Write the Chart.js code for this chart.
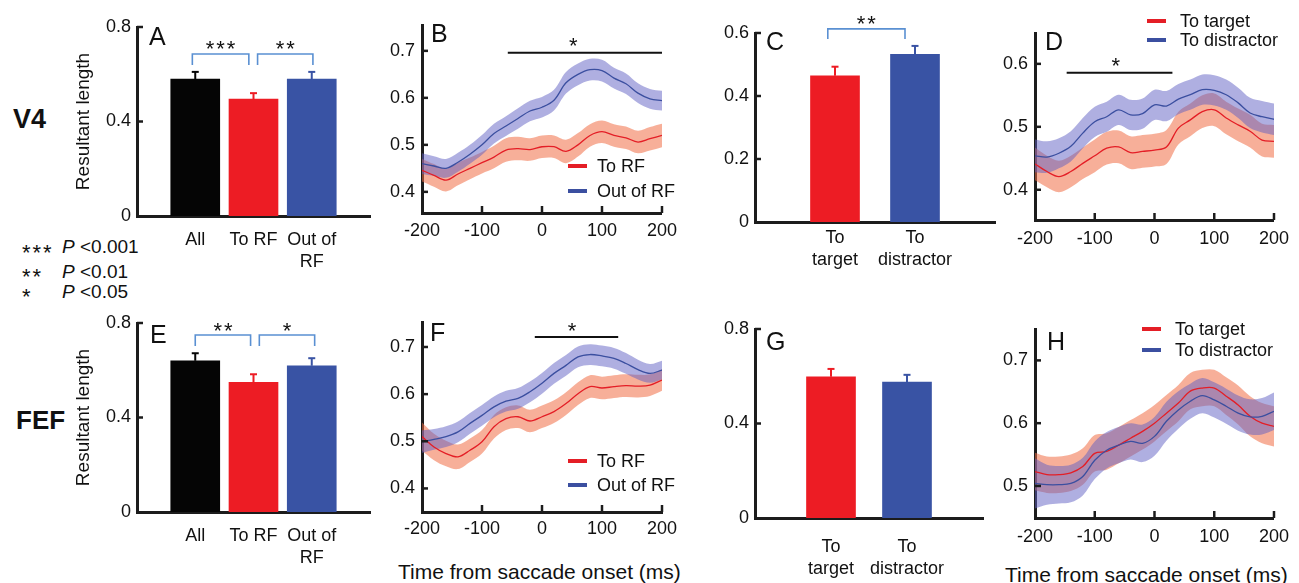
<!DOCTYPE html>
<html>
<head>
<meta charset="utf-8">
<script src="https://cdn.jsdelivr.net/npm/chart.js@4.4.0/dist/chart.umd.min.js"></script>
<style>
  body { margin: 0; background: #fff; width: 1299px; height: 583px; position: relative; overflow: hidden;
         font-family: "Liberation Sans", Arial, sans-serif; color: #111; }
  canvas { position: absolute; }
  .t { position: absolute; white-space: nowrap; }
</style>
</head>
<body>
<div class="t" style="left:13px;top:106px;font:bold 27px/27px 'Liberation Sans',Arial;">V4</div>
<div class="t" style="left:16px;top:407px;font:bold 26px/26px 'Liberation Sans',Arial;">FEF</div>
<div class="t" style="left:22px;top:242px;font:22px/22px 'Liberation Sans',Arial;letter-spacing:2px;">***</div>
<div class="t" style="left:22px;top:266px;font:22px/22px 'Liberation Sans',Arial;letter-spacing:2px;">**</div>
<div class="t" style="left:22px;top:286px;font:22px/22px 'Liberation Sans',Arial;">*</div>
<div class="t" style="left:62px;top:237px;font:19px/19px 'Liberation Sans',Arial;"><i>P</i> &lt;0.001</div>
<div class="t" style="left:62px;top:262px;font:19px/19px 'Liberation Sans',Arial;"><i>P</i> &lt;0.01</div>
<div class="t" style="left:62px;top:282px;font:19px/19px 'Liberation Sans',Arial;"><i>P</i> &lt;0.05</div>
<div class="t" style="left:398px;top:561px;font:21px/21px 'Liberation Sans',Arial;">Time from saccade onset (ms)</div>
<div class="t" style="left:1005px;top:564px;font:21px/21px 'Liberation Sans',Arial;">Time from saccade onset (ms)</div>
<script>
// ---- data ----
const timeMs = [-200, -180, -160, -140, -120, -100, -80, -60, -40, -20, 0, 20, 40, 60, 80, 100, 120, 140, 160, 180, 200];
const timeTicks = [-200, -100, 0, 100, 200];

const rfCats = ['All', 'To RF', ['Out of', 'RF']];
const tdCats = [['To', 'target'], ['To', 'distractor']];

// bar panels (resultant length, mean and sem)
const v4RfMean = [0.580, 0.495, 0.580];
const v4RfSem = [0.030, 0.025, 0.030];
const v4TdMean = [0.464, 0.532];
const v4TdSem = [0.029, 0.027];
const fefRfMean = [0.640, 0.549, 0.619];
const fefRfSem = [0.032, 0.034, 0.032];
const fefTdMean = [0.598, 0.575];
const fefTdSem = [0.033, 0.031];

// B: V4, to RF / out of RF
const bOutRF = [0.460, 0.455, 0.450, 0.463, 0.480, 0.500, 0.524, 0.540, 0.556, 0.572, 0.580, 0.595, 0.632, 0.650, 0.660, 0.658, 0.642, 0.630, 0.610, 0.598, 0.594];
const bOutRFSem = [0.022, 0.021, 0.020, 0.020, 0.020, 0.021, 0.021, 0.021, 0.022, 0.022, 0.022, 0.022, 0.023, 0.023, 0.023, 0.023, 0.022, 0.022, 0.021, 0.021, 0.021];
const bToRF = [0.446, 0.435, 0.425, 0.438, 0.450, 0.462, 0.474, 0.489, 0.492, 0.490, 0.496, 0.496, 0.486, 0.500, 0.520, 0.528, 0.520, 0.515, 0.506, 0.513, 0.520];
const bToRFSem = [0.024, 0.024, 0.024, 0.024, 0.023, 0.023, 0.024, 0.025, 0.025, 0.024, 0.024, 0.024, 0.025, 0.025, 0.024, 0.024, 0.024, 0.024, 0.024, 0.025, 0.025];

// D: V4, to target / to distractor
const dDistr = [0.454, 0.452, 0.458, 0.469, 0.490, 0.508, 0.516, 0.527, 0.519, 0.521, 0.535, 0.533, 0.544, 0.551, 0.559, 0.558, 0.551, 0.538, 0.522, 0.516, 0.512];
const dDistrSem = [0.026, 0.025, 0.024, 0.024, 0.024, 0.024, 0.024, 0.024, 0.024, 0.024, 0.024, 0.024, 0.024, 0.024, 0.024, 0.024, 0.024, 0.024, 0.024, 0.025, 0.025];
const dTarget = [0.441, 0.429, 0.421, 0.429, 0.442, 0.454, 0.466, 0.468, 0.459, 0.461, 0.463, 0.468, 0.498, 0.511, 0.524, 0.527, 0.514, 0.503, 0.493, 0.479, 0.477];
const dTargetSem = [0.026, 0.025, 0.025, 0.025, 0.025, 0.026, 0.026, 0.026, 0.026, 0.026, 0.026, 0.027, 0.026, 0.026, 0.026, 0.026, 0.026, 0.026, 0.026, 0.026, 0.026];

// F: FEF, to RF / out of RF
const fOutRF = [0.499, 0.504, 0.510, 0.520, 0.538, 0.555, 0.573, 0.585, 0.591, 0.605, 0.623, 0.644, 0.661, 0.679, 0.684, 0.681, 0.676, 0.665, 0.652, 0.644, 0.651];
const fOutRFSem = [0.024, 0.022, 0.022, 0.022, 0.022, 0.022, 0.022, 0.022, 0.022, 0.022, 0.022, 0.022, 0.022, 0.022, 0.022, 0.022, 0.022, 0.022, 0.021, 0.020, 0.020];
const fToRF = [0.510, 0.488, 0.474, 0.467, 0.481, 0.499, 0.531, 0.548, 0.552, 0.543, 0.552, 0.563, 0.580, 0.601, 0.616, 0.613, 0.616, 0.618, 0.617, 0.619, 0.630];
const fToRFSem = [0.030, 0.028, 0.027, 0.026, 0.025, 0.025, 0.025, 0.024, 0.024, 0.024, 0.024, 0.024, 0.024, 0.024, 0.024, 0.024, 0.024, 0.024, 0.024, 0.023, 0.023];

// H: FEF, to target / to distractor
const hDistr = [0.504, 0.502, 0.502, 0.504, 0.515, 0.541, 0.557, 0.565, 0.571, 0.568, 0.579, 0.603, 0.621, 0.635, 0.644, 0.637, 0.627, 0.616, 0.610, 0.611, 0.619];
const hDistrSem = [0.040, 0.032, 0.030, 0.030, 0.030, 0.030, 0.029, 0.029, 0.029, 0.030, 0.031, 0.031, 0.030, 0.028, 0.028, 0.028, 0.028, 0.028, 0.028, 0.029, 0.030];
const hTarget = [0.523, 0.518, 0.518, 0.521, 0.531, 0.552, 0.555, 0.565, 0.576, 0.587, 0.600, 0.616, 0.632, 0.651, 0.656, 0.656, 0.643, 0.629, 0.611, 0.600, 0.595];
const hTargetSem = [0.030, 0.029, 0.029, 0.029, 0.029, 0.029, 0.029, 0.029, 0.029, 0.029, 0.029, 0.029, 0.029, 0.029, 0.029, 0.029, 0.030, 0.031, 0.032, 0.032, 0.032];

const ticksA = [0, 0.4, 0.8];
const ticksC = [0, 0.2, 0.4, 0.6];
const ticksG = [0, 0.4, 0.8];
const ticksB = [0.4, 0.5, 0.6, 0.7];
const ticksD = [0.4, 0.5, 0.6];
const ticksF = [0.4, 0.5, 0.6, 0.7];
const ticksH = [0.5, 0.6, 0.7];

// ---- style ----
const FONT = '"Liberation Sans", Arial, sans-serif';
const INK = '#111';
const AXIS = '#1c1c1c';
const RED = '#E41E26', BLUE = '#3B4FA0', BLACK = '#050505';
const BAR_RED = '#ED1C24', BAR_BLUE = '#3953A4';
const RED_BAND = 'rgba(240,110,70,0.55)', BLUE_BAND = 'rgba(95,95,195,0.5)';
const BRACKET = '#5A90D2';

Chart.defaults.font.family = FONT;
Chart.defaults.font.size = 18;
Chart.defaults.color = INK;
Chart.defaults.animation = false;
Chart.defaults.events = [];
Chart.defaults.plugins.legend.display = false;
Chart.defaults.plugins.tooltip.enabled = false;

function stars(ctx, n, cx, cy) {
  ctx.font = '22px ' + FONT;
  ctx.textAlign = 'center';
  ctx.textBaseline = 'alphabetic';
  const pitch = 10.5;
  for (let i = 0; i < n; i++) ctx.fillText('*', cx + (i - (n - 1) / 2) * pitch, cy + 12.5);
}

function seg(ctx, x1, y1, x2, y2) {
  ctx.beginPath(); ctx.moveTo(x1, y1); ctx.lineTo(x2, y2); ctx.stroke();
}

const panelDecor = {
  id: 'panelDecor',
  afterDraw(chart, args, o) {
    const { ctx, chartArea: ca } = chart;
    const x = chart.scales.x, y = chart.scales.y;
    ctx.save();
    ctx.strokeStyle = AXIS; ctx.lineWidth = 2.5; ctx.lineCap = 'butt';
    // inward ticks
    y.ticks.forEach(t => {
      if (t.value <= y.min) return;
      const py = y.getPixelForValue(t.value);
      seg(ctx, ca.left, py, ca.left + 6, py);
    });
    if (o.xTicks) x.ticks.forEach(t => {
      if (t.value <= x.min) return;
      const px = x.getPixelForValue(t.value);
      seg(ctx, px, ca.bottom, px, ca.bottom - 7);
    });
    // panel letter
    ctx.fillStyle = INK;
    ctx.font = '25px ' + FONT;
    ctx.textAlign = 'left'; ctx.textBaseline = 'middle';
    ctx.fillText(o.letter, ca.left + o.letterAt[0], ca.top + o.letterAt[1]);

    // error bars
    if (o.sem) {
      const meta = chart.getDatasetMeta(0);
      const ds = chart.data.datasets[0];
      meta.data.forEach((bar, i) => {
        const v = ds.data[i];
        if (v == null) return;
        const top = y.getPixelForValue(v + o.sem[i]);
        ctx.strokeStyle = ds.backgroundColor[i];
        ctx.lineWidth = 2;
        seg(ctx, bar.x, bar.y, bar.x, top);
        seg(ctx, bar.x - 3.5, top, bar.x + 3.5, top);
      });
    }
    // significance brackets
    (o.brackets || []).forEach(b => {
      const x1 = x.getPixelForValue(b.from), x2 = x.getPixelForValue(b.to);
      const yt = y.getPixelForValue(b.top), yb = y.getPixelForValue(b.top - b.drop);
      ctx.strokeStyle = BRACKET; ctx.lineWidth = 1.6;
      ctx.beginPath(); ctx.moveTo(x1, yb); ctx.lineTo(x1, yt); ctx.lineTo(x2, yt); ctx.lineTo(x2, yb); ctx.stroke();
      ctx.fillStyle = INK;
      stars(ctx, b.stars, (x1 + x2) / 2, yt - 10);
    });
    // significance line
    if (o.sig) {
      const x1 = x.getPixelForValue(o.sig.from), x2 = x.getPixelForValue(o.sig.to);
      const py = y.getPixelForValue(o.sig.at);
      ctx.strokeStyle = INK; ctx.lineWidth = 2;
      seg(ctx, x1, py, x2, py);
      ctx.fillStyle = INK;
      stars(ctx, 1, x.getPixelForValue(o.sig.star), py - 12);
    }
    // legend
    if (o.legend) {
      const L = o.legend;
      L.items.forEach((it, i) => {
        const py = ca.top + L.dy + i * L.gap;
        ctx.strokeStyle = it.color; ctx.lineWidth = 4;
        seg(ctx, ca.left + L.dx, py, ca.left + L.dx + 19, py);
        ctx.fillStyle = INK;
        ctx.font = '18px ' + FONT;
        ctx.textAlign = 'left'; ctx.textBaseline = 'middle';
        ctx.fillText(it.label, ca.left + L.dx + L.textDx, py + 1);
      });
    }
    ctx.restore();
  }
};

function makeCanvas(box, pad) {
  const c = document.createElement('canvas');
  const w = box.r - box.l + pad.l + pad.r, h = box.b - box.t + pad.t + pad.b;
  c.width = w; c.height = h;
  c.style.left = (box.l - pad.l) + 'px';
  c.style.top = (box.t - pad.t) + 'px';
  c.style.width = w + 'px'; c.style.height = h + 'px';
  document.body.appendChild(c);
  return c;
}

function fixedTicks(list) {
  return s => { s.ticks = list.map(v => ({ value: v })); };
}

function barPanel(p) {
  const c = makeCanvas(p.box, p.pad);
  const labels = [''].concat(p.cats, ['']);
  const data = [null].concat(p.mean, [null]);
  const sem = [null].concat(p.sem, [null]);
  const colors = [null].concat(p.colors, [null]);
  new Chart(c, {
    type: 'bar',
    data: { labels: labels, datasets: [{ data: data, backgroundColor: colors, barThickness: 49, borderWidth: 0 }] },
    options: {
      responsive: false,
      layout: { padding: { top: p.pad.t, right: p.pad.r, left: 0, bottom: 0 } },
      scales: {
        x: {
          type: 'category', offset: false,
          grid: { display: false, drawTicks: false, offset: false },
          border: { color: AXIS, width: 3 },
          ticks: { padding: p.labelPad, maxRotation: 0, autoSkip: false, font: { size: 18, lineHeight: 1.22 } },
          afterFit: s => { s.height = p.pad.b; }
        },
        y: {
          min: 0, max: p.max,
          afterBuildTicks: fixedTicks(p.ticks),
          grid: { display: false, drawTicks: false },
          border: { color: AXIS, width: 3 },
          ticks: { padding: 6, callback: v => v === 0 ? '0' : v.toFixed(1) },
          title: { display: !!p.yTitle, text: p.yTitle, font: { size: 19 }, padding: 4 },
          afterFit: s => { s.width = p.pad.l; }
        }
      },
      plugins: { panelDecor: { letter: p.letter, letterAt: p.letterAt, sem: sem, brackets: p.brackets } }
    },
    plugins: [panelDecor]
  });
}

function band(mean, sem, lineColor, bandColor) {
  return [
    { data: timeMs.map((t, i) => ({ x: t, y: mean[i] + sem[i] })), borderWidth: 0, pointRadius: 0, fill: '+1', backgroundColor: bandColor, tension: 0.35 },
    { data: timeMs.map((t, i) => ({ x: t, y: mean[i] - sem[i] })), borderWidth: 0, pointRadius: 0, fill: false, tension: 0.35 },
    { data: timeMs.map((t, i) => ({ x: t, y: mean[i] })), borderColor: lineColor, borderWidth: 1.3, pointRadius: 0, fill: false, tension: 0.35 }
  ];
}

function linePanel(p) {
  const c = makeCanvas(p.box, p.pad);
  new Chart(c, {
    type: 'line',
    data: { datasets: p.series },
    options: {
      responsive: false,
      layout: { padding: { top: p.pad.t, right: p.pad.r, left: 0, bottom: 0 } },
      scales: {
        x: {
          type: 'linear', min: -200, max: 200,
          afterBuildTicks: fixedTicks(timeTicks),
          grid: { display: false, drawTicks: false },
          border: { color: AXIS, width: 3 },
          ticks: { padding: p.labelPad, maxRotation: 0, autoSkip: false, callback: v => String(v) },
          afterFit: s => { s.height = p.pad.b; }
        },
        y: {
          min: p.min, max: p.max,
          afterBuildTicks: fixedTicks(p.ticks),
          grid: { display: false, drawTicks: false },
          border: { color: AXIS, width: 3 },
          ticks: { padding: 7, callback: v => v.toFixed(1) },
          afterFit: s => { s.width = p.pad.l; }
        }
      },
      plugins: {
        filler: { drawTime: 'beforeDatasetsDraw' },
        panelDecor: { letter: p.letter, letterAt: p.letterAt, xTicks: true, sig: p.sig, legend: p.legend }
      }
    },
    plugins: [panelDecor]
  });
}

const rfLegend = [{ label: 'To RF', color: RED }, { label: 'Out of RF', color: BLUE }];
const tdLegend = [{ label: 'To target', color: RED }, { label: 'To distractor', color: BLUE }];

// ---- A ----
barPanel({
  box: { l: 137, t: 27, r: 377, b: 216 }, pad: { l: 69, t: 27, r: 6, b: 65 },
  cats: rfCats, mean: v4RfMean, sem: v4RfSem, colors: [BLACK, BAR_RED, BAR_BLUE],
  max: 0.8, ticks: ticksA, labelPad: 13, yTitle: 'Resultant length',
  letter: 'A', letterAt: [12, 11],
  brackets: [
    { from: 0.95, to: 1.92, top: 0.686, drop: 0.047, stars: 3 },
    { from: 2.07, to: 3.02, top: 0.686, drop: 0.047, stars: 2 }
  ]
});

// ---- B ----
linePanel({
  box: { l: 422, t: 25, r: 662, b: 213 }, pad: { l: 60, t: 25, r: 22, b: 35 },
  min: 0.355, max: 0.755, ticks: ticksB, labelPad: 7,
  series: band(bOutRF, bOutRFSem, BLUE, BLUE_BAND).concat(band(bToRF, bToRFSem, RED, RED_BAND)),
  letter: 'B', letterAt: [9, 10],
  sig: { from: -57, to: 200, at: 0.696, star: 52 },
  legend: { items: rfLegend, dx: 146, dy: 141, gap: 25, textDx: 29 }
});

// ---- C ----
barPanel({
  box: { l: 755, t: 33, r: 995, b: 222 }, pad: { l: 55, t: 33, r: 6, b: 55 },
  cats: tdCats, mean: v4TdMean, sem: v4TdSem, colors: [BAR_RED, BAR_BLUE],
  max: 0.6, ticks: ticksC, labelPad: 5,
  letter: 'C', letterAt: [11, 10],
  brackets: [{ from: 0.91, to: 1.875, top: 0.613, drop: 0.032, stars: 2 }]
});

// ---- D ----
linePanel({
  box: { l: 1035, t: 33, r: 1275, b: 220 }, pad: { l: 55, t: 33, r: 22, b: 35 },
  min: 0.352, max: 0.649, ticks: ticksD, labelPad: 8,
  series: band(dDistr, dDistrSem, BLUE, BLUE_BAND).concat(band(dTarget, dTargetSem, RED, RED_BAND)),
  letter: 'D', letterAt: [10, 10],
  sig: { from: -147, to: 30, at: 0.586, star: -65 },
  legend: { items: tdLegend, dx: 112, dy: -12, gap: 19, textDx: 33 }
});

// ---- E ----
barPanel({
  box: { l: 137, t: 323, r: 377, b: 512 }, pad: { l: 69, t: 35, r: 6, b: 60 },
  cats: rfCats, mean: fefRfMean, sem: fefRfSem, colors: [BLACK, BAR_RED, BAR_BLUE],
  max: 0.8, ticks: ticksA, labelPad: 13, yTitle: 'Resultant length',
  letter: 'E', letterAt: [13, 13],
  brackets: [
    { from: 1.0, to: 1.95, top: 0.749, drop: 0.046, stars: 2 },
    { from: 2.1, to: 3.05, top: 0.749, drop: 0.046, stars: 1 }
  ]
});

// ---- F ----
linePanel({
  box: { l: 422, t: 322, r: 662, b: 512 }, pad: { l: 60, t: 30, r: 22, b: 35 },
  min: 0.35, max: 0.753, ticks: ticksF, labelPad: 6,
  series: band(fOutRF, fOutRFSem, BLUE, BLUE_BAND).concat(band(fToRF, fToRFSem, RED, RED_BAND)),
  letter: 'F', letterAt: [8, 12],
  sig: { from: -12, to: 127, at: 0.721, star: 50 },
  legend: { items: rfLegend, dx: 146, dy: 139, gap: 24, textDx: 29 }
});

// ---- G ----
barPanel({
  box: { l: 755, t: 329, r: 995, b: 518 }, pad: { l: 55, t: 35, r: 6, b: 60 },
  cats: tdCats, mean: fefTdMean, sem: fefTdSem, colors: [BAR_RED, BAR_BLUE],
  max: 0.8, ticks: ticksG, labelPad: 18,
  letter: 'G', letterAt: [11, 14]
});

// ---- H ----
linePanel({
  box: { l: 1035, t: 329, r: 1275, b: 518 }, pad: { l: 55, t: 35, r: 22, b: 35 },
  min: 0.449, max: 0.75, ticks: ticksH, labelPad: 8,
  series: band(hDistr, hDistrSem, BLUE, BLUE_BAND).concat(band(hTarget, hTargetSem, RED, RED_BAND)),
  letter: 'H', letterAt: [12, 14],
  legend: { items: tdLegend, dx: 107, dy: 0, gap: 21, textDx: 33 }
});
</script>
</body>
</html>
